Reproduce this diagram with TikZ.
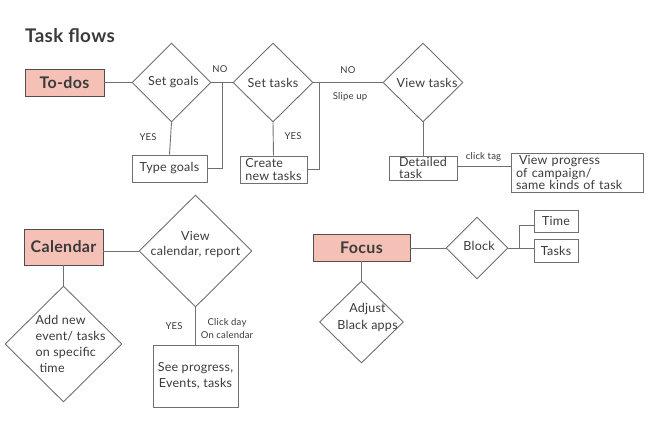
\documentclass[tikz,border=0pt]{standalone}
\usepackage{fontspec}
\setmainfont{Lato}[LetterSpace=2]
\usetikzlibrary{shapes.geometric,calc}
\definecolor{pinkbox}{HTML}{F5C1B6}
\definecolor{ln}{HTML}{707070}
\definecolor{txt}{HTML}{3A3A3A}
\tikzset{
 every node/.style={text=txt},
 conn/.style={draw=ln, line width=0.9pt},
 dia/.style={diamond, draw=ln, line width=0.9pt, inner sep=0pt, aspect=1},
 box/.style={rectangle, draw=ln, line width=0.9pt, inner sep=0pt, font=\fontsize{12.5}{12.5}\selectfont},
 head/.style={rectangle, draw=ln!70!black, fill=pinkbox, line width=0.9pt, inner sep=0pt, font=\bfseries\fontsize{16}{18}\selectfont},
 lbl/.style={font=\fontsize{12.5}{15}\selectfont, align=center, inner sep=0pt, text=txt},
 small/.style={font=\fontsize{9.5}{13}\selectfont, inner sep=0pt, align=center},
}
\begin{document}
\begin{tikzpicture}[x=1pt,y=-1pt]
\path[use as bounding box] (0,0) rectangle (662,433);
\node[anchor=west, font=\bfseries\fontsize{18.8}{20}\selectfont, inner sep=0pt] (title) at (25,36) {Task flows};

% To-dos row
\node[head, minimum width=79, minimum height=27] (todo) at (64.5,82.5) {To-dos};
\node[dia, minimum width=79, minimum height=79, label={[lbl,xshift=2pt]center:Set goals}] (sg) at (171.5,82.5) {};
\node[dia, minimum width=80, minimum height=79, label={[lbl]center:Set tasks}] (st) at (273,82.5) {};
\node[dia, minimum width=80, minimum height=79, label={[lbl,xshift=4pt]center:View tasks}] (vt) at (423,82.5) {};
\node[box, minimum width=75, minimum height=27] (tg) at (169.5,168.5) {Type goals};
\node[box, minimum width=67, minimum height=27, align=left] (cnt) at (273.5,169.5) {Create\\new tasks};
\node[box, minimum width=68, minimum height=24, align=left] (dt) at (423,168) {Detailed\\task};
\node[box, minimum width=132, minimum height=39, text width=122, align=left] (vp) at (577,172.5) {\hspace{3pt}View progress\\of campaign/\\same kinds of task};

\draw[conn] (todo.east) -- (sg.west);
\draw[conn] (sg.east) -- (st.west);
\draw[conn] (tg.east) -| ($(sg.east)!.5!(st.west)$);
\draw[conn] (st.east) -- (vt.west);
\draw[conn] (cnt.east) -| ([xshift=6pt]st.east);
\draw[conn] (sg.south) -- (tg.north);
\draw[conn] (st.south) -- (cnt.north);
\draw[conn] (vt.south) -- (dt.north);
\draw[conn] ([yshift=2pt]dt.east) -- ([yshift=2pt]dt.east -| vp.west);

\node[small] (no1) at (220,69) {NO};
\node[small] (yes1) at (148,137) {YES};
\node[small] (yes2) at (293,136) {YES};
\node[small] (no2) at (348,70) {NO};
\node[small] (slip) at (350,97) {Slipe up};
\node[small] (ctag) at (483.5,157) {click tag};

% Calendar
\node[head, minimum width=79, minimum height=36] (cal) at (63.5,247) {Calendar};
\node[dia, minimum width=113, minimum height=112, label={[lbl,yshift=6pt]center:{View\\calendar, report}}] (vc) at (195.5,251) {};
\node[box, minimum width=85, minimum height=62, align=center, font=\fontsize{12.5}{16}\selectfont] (see) at (195.5,376) {See progress,\\Events, tasks};
\node[dia, minimum width=117, minimum height=116, label={[lbl,xshift=7pt,align=left,font=\fontsize{12.5}{16}\selectfont]center:{Add new\\event/ tasks\\on specific\\\hspace{4pt}time}}] (add) at (63.5,344) {};
\draw[conn] (cal.east |- vc.west) -- (vc.west);
\draw[conn] (vc.south) -- (see.north);
\draw[conn] (cal.south) -- (add.north);
\node[small] (yes3) at (174,326) {YES};
\node[small] (click) at (227,329) {Click day\\On calendar};

% Focus
\node[head, minimum width=97, minimum height=27] (focus) at (361.5,247.5) {Focus};
\node[dia, minimum width=62, minimum height=62, label={[lbl,xshift=2pt,yshift=2pt]center:Block}] (blk) at (477,248) {};
\node[box, minimum width=44, minimum height=22] (time) at (556,221) {Time};
\node[box, minimum width=44, minimum height=23] (tasks) at (556,250.5) {Tasks};
\node[dia, minimum width=84, minimum height=82, label={[lbl,xshift=6pt,yshift=5pt,font=\fontsize{12.5}{17}\selectfont]center:{Adjust\\Black apps}}] (adj) at (361.5,322) {};
\draw[conn] (focus.east |- blk.west) -- (blk.west);
\draw[conn] (blk.east) -- (blk.east -| tasks.west);
\draw[conn] ([xshift=11pt]blk.east) |- ([yshift=-4pt]time.west);
\draw[conn] (focus.south) -- (adj.north);
\end{tikzpicture}
\end{document}
